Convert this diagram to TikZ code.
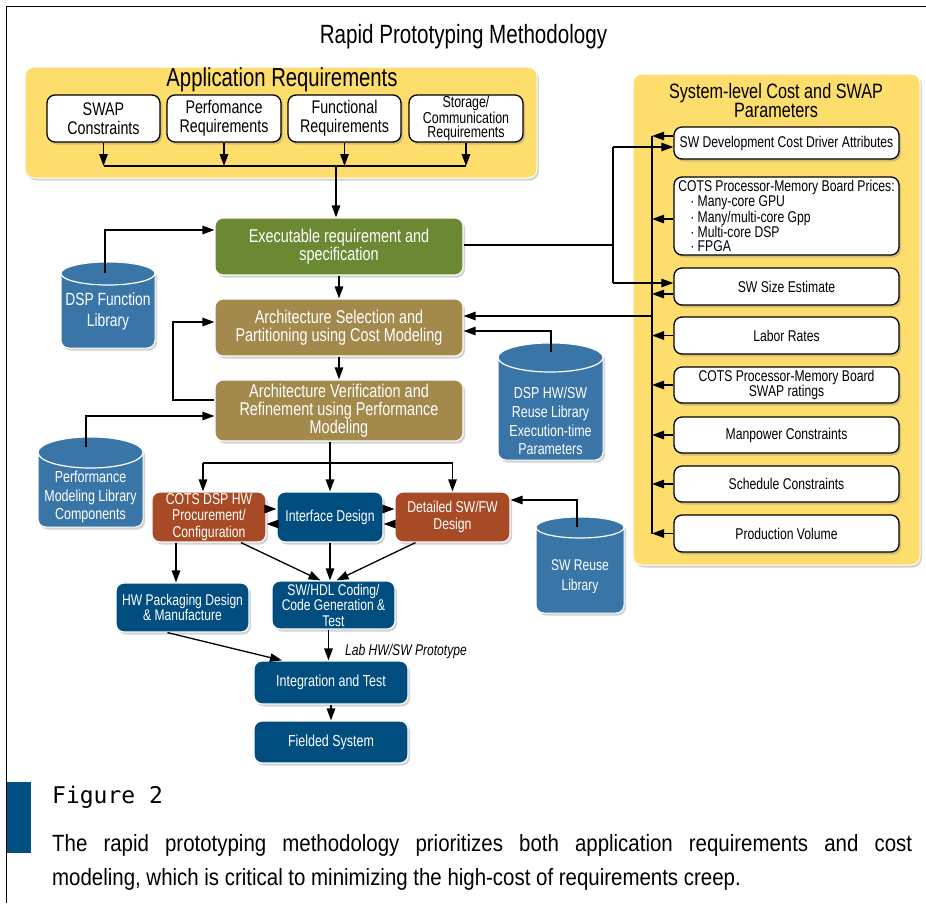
\documentclass[tikz,border=0pt]{standalone}
\usepackage{fontspec}
\setmainfont{Liberation Sans}[FakeStretch=0.78]
\newfontfamily\capfont{Liberation Sans}[FakeStretch=0.87]
\newfontfamily\figmono{DejaVu Sans Mono}
\usetikzlibrary{arrows.meta,shadows,calc}
\definecolor{panelyellow}{RGB}{253,221,108}
\definecolor{boxgreen}{RGB}{106,137,50}
\definecolor{boxolive}{RGB}{163,138,76}
\definecolor{boxrust}{RGB}{167,74,37}
\definecolor{boxblue}{RGB}{0,78,128}
\definecolor{cylblue}{RGB}{58,117,168}
\definecolor{barblue}{RGB}{0,80,130}
\newcommand\fsz[2]{\fontsize{#1}{#2}\selectfont}
\newcommand\dbcyl[5]{%
  \pgfmathsetmacro\cylrx{(#2-#1)/2}%
  \path[cylshape] (#1,#3) arc[start angle=180,end angle=0,x radius=\cylrx pt,y radius=#4pt]
     -- (#2,{#5-8}) arc[start angle=0,end angle=-90,radius=8pt]
     -- ({#1+8},#5) arc[start angle=270,end angle=180,radius=8pt] -- cycle;
  \draw[white,line width=1.2pt] (#1,#3) arc[start angle=180,end angle=360,x radius=\cylrx pt,y radius=#4pt];
}
\begin{document}
\begin{tikzpicture}[x=1pt,y=-1pt,
  shadowed/.style={drop shadow={shadow xshift=2pt,shadow yshift=-2.5pt,opacity=0.35}},
  panel/.style={shadowed,fill=panelyellow,draw=white,line width=1pt,rounded corners=9pt,inner sep=0pt},
  wbox/.style={shadowed,fill=white,draw=black,line width=1.3pt,rounded corners=8pt,align=center,inner sep=1pt,text=black},
  rbox/.style={wbox,minimum width=225pt,font=\fsz{15.6}{14.5}},
  cbox/.style={shadowed,draw=white,line width=1.2pt,rounded corners=8pt,align=center,inner sep=1pt,text=white},
  cylshape/.style={shadowed,fill=cylblue,draw=white,line width=1pt},
  cyltext/.style={text=white,align=center,inner sep=0pt},
  conn/.style={line width=1.3pt,draw=black},
  arr/.style={conn,-{Triangle[length=12pt,width=8.5pt]}}
]
\useasboundingbox (0,0) rectangle (926,903);
% frame
\draw[line width=1pt] (6,903) -- (6,6) -- (926,6);
% title
\node[font=\fsz{26.4}{26}] (title) at (463.5,37) {Rapid Prototyping Methodology};

% application requirements
\node[panel,minimum width=512pt,minimum height=111pt] (apppanel) at (281,122.5) {};
\node[font=\fsz{26}{26}] (apptitle) at (282,80) {Application Requirements};
\node[wbox,minimum width=113pt,minimum height=47pt,font=\fsz{18.3}{19}] (swap) at (103.5,118.5) {SWAP\\Constraints};
\node[wbox,minimum width=114pt,minimum height=47pt,font=\fsz{18.3}{19}] (perf) at (224,118.5) {Perfomance\\Requirements};
\node[wbox,minimum width=113pt,minimum height=47pt,font=\fsz{18.3}{19}] (func) at (344.5,118.5) {Functional\\Requirements};
\node[wbox,minimum width=114pt,minimum height=47pt,font=\fsz{15.9}{14.3}] (stor) at (466,118.5) {Storage/\\Communication\\Requirements};

% system-level panel
\node[panel,minimum width=287pt,minimum height=491pt] (syspanel) at (776.5,319.5) {};
\node[font=\fsz{20.8}{19},align=center] (systitle) at (776,101) {System-level Cost and SWAP\\Parameters};
\node[rbox,minimum height=32pt] (swdev) at (786.5,143) {SW Development Cost Driver Attributes};
\node[rbox,minimum height=78pt,align=left,font=\fsz{15.6}{14}] (prices) at (786.5,216) {COTS Processor-Memory Board Prices:\\\hspace*{12pt}· Many-core GPU\\\hspace*{12pt}· Many/multi-core Gpp\\\hspace*{12pt}· Multi-core DSP\\\hspace*{12pt}· FPGA};
\node[rbox,minimum height=37pt] (swsize) at (786.5,286.5) {SW Size Estimate};
\node[rbox,minimum height=37pt] (labor) at (786.5,335.5) {Labor Rates};
\node[rbox,minimum height=36pt] (swapr) at (786.5,385) {COTS Processor-Memory Board\\SWAP ratings};
\node[rbox,minimum height=36pt] (manpower) at (786.5,435) {Manpower Constraints};
\node[rbox,minimum height=36pt] (schedule) at (786.5,484) {Schedule Constraints};
\node[rbox,minimum height=37pt] (prodvol) at (786.5,533.5) {Production Volume};

% central flow
\node[cbox,fill=boxgreen,minimum width=248pt,minimum height=57pt,font=\fsz{18.5}{18}] (exec) at (339,246.5) {Executable requirement and\\specification};
\node[cbox,fill=boxolive,minimum width=248pt,minimum height=57pt,font=\fsz{18.5}{18.5}] (archsel) at (339,327.5) {Architecture Selection and\\Partitioning using Cost Modeling};
\node[cbox,fill=boxolive,minimum width=248pt,minimum height=61pt,font=\fsz{18.5}{18}] (archver) at (339,410.5) {Architecture Verification and\\Refinement using Performance\\Modeling};

\node[cbox,fill=boxrust,minimum width=114pt,minimum height=50pt,font=\fsz{15.7}{16.5}] (cots) at (209,517) {COTS DSP HW\\Procurement/\\Configuration};
\node[cbox,fill=boxblue,minimum width=106pt,minimum height=50pt,font=\fsz{15.7}{16.5}] (iface) at (330,517) {Interface Design};
\node[cbox,fill=boxrust,minimum width=115pt,minimum height=50pt,font=\fsz{15.7}{17}] (detailed) at (452.5,517) {Detailed SW/FW\\Design};
\node[cbox,fill=boxblue,minimum width=133pt,minimum height=49pt,font=\fsz{15.5}{15}] (hwpack) at (182.5,607.5) {HW Packaging Design\\\& Manufacture};
\node[cbox,fill=boxblue,minimum width=123pt,minimum height=48pt,font=\fsz{15.5}{15.5}] (swhdl) at (333.5,605) {SW/HDL Coding/\\Code Generation \&\\Test};
\node[cbox,fill=boxblue,minimum width=154pt,minimum height=43pt,font=\fsz{16}{16}] (integ) at (331,682.5) {Integration and Test};
\node[cbox,fill=boxblue,minimum width=154pt,minimum height=42pt,font=\fsz{16}{16}] (field) at (331,742) {Fielded System};
\node[font=\fsz{15.5}{15.5}\itshape,anchor=west,inner sep=0pt] (lab) at (345,651) {Lab HW/SW Prototype};

% cylinders
\dbcyl{61}{155}{273.5}{11.5}{348}
\dbcyl{38}{143}{452.5}{15.5}{527}
\dbcyl{498}{603}{357.5}{14.5}{460}
\dbcyl{536}{624}{527.5}{10.5}{613}
\node[cyltext,font=\fsz{17.7}{21}] (dspfl) at (108,311) {DSP Function\\Library};
\node[cyltext,font=\fsz{16}{18.5}] (perflib) at (90.5,497) {Performance\\Modeling Library\\Components};
\node[cyltext,font=\fsz{15.9}{18.7}] (hwswlib) at (550.5,421) {DSP HW/SW\\Reuse Library\\Execution-time\\Parameters};
\node[cyltext,font=\fsz{15.5}{20}] (swreuse) at (580,577) {SW Reuse\\Library};
\coordinate (dspfltop) at (105,273);
\coordinate (perftop) at (86,447);
\coordinate (hwswtop) at (551,352);
\coordinate (swreusetop) at (577,527);

% application requirement connectors
\coordinate (rbus) at (0,166);
\draw[conn] (swap.south |- rbus) -- (stor.south |- rbus);
\foreach \b in {swap,perf,func,stor} \draw[arr] (\b.south) -- (\b.south |- rbus);
\coordinate (dropx) at ([xshift=-3pt]exec.north);
\draw[arr] (dropx |- rbus) -- (dropx);

% central vertical
\draw[arr] (exec.south) -- (archsel.north);
\draw[arr] (archsel.south) -- (archver.north);

% left inputs
\coordinate (exin) at ([yshift=16.5pt]exec.west);
\draw[arr] (dspfltop) |- (exin);
\coordinate (verout) at ([yshift=10.5pt]archver.west);
\coordinate (selin) at ([yshift=5.5pt]archsel.west);
\coordinate (loopx) at (173,0);
\draw[arr] (verout) -- (verout -| loopx) |- (selin);
\coordinate (verin) at ([yshift=-5.5pt]archver.west);
\draw[arr] (perftop) |- (verin);

% right inputs to archsel
\coordinate (bus) at (652,0);
\coordinate (selin1) at ([yshift=11.5pt]archsel.east);
\coordinate (selin2) at ([yshift=-3.5pt]archsel.east);
\draw[arr] (selin1 -| bus) -- (selin1);
\draw[arr] (hwswtop) |- (selin2);

% exec to right panel
\coordinate (jx) at (613,0);
\coordinate (exout) at ([yshift=1.5pt]exec.east);
\coordinate (swdevin) at ([yshift=-4pt]swdev.west);
\coordinate (swsizein) at ([yshift=3.5pt]swsize.west);
\draw[conn] (exout) -- (exout -| jx);
\draw[conn] (swdevin -| jx) -- (swsizein -| jx);
\draw[arr] (swdevin -| jx) -- (swdevin);
\draw[arr] (swsizein -| jx) -- (swsizein);

% bus
\coordinate (swdevout) at ([yshift=7pt]swdev.west);
\coordinate (pricesout) at ([yshift=-3pt]prices.west);
\coordinate (swsizeout) at ([yshift=-7.5pt]swsize.west);
\draw[conn] (swdevout -| bus) -- (prodvol.west -| bus);
\draw[arr] (swdevout) -- (swdevout -| bus);
\draw[arr] (pricesout) -- (pricesout -| bus);
\draw[arr] (swsizeout) -- (swsizeout -| bus);
\foreach \b in {labor,swapr,manpower,schedule,prodvol} \draw[arr] (\b.west) -- (\b.west -| bus);

% split
\coordinate (splity) at (0,463);
\coordinate (cotsin) at ([xshift=-6pt]cots.north);
\draw[conn] (archver.south -| iface.north) -- (iface.north |- splity);
\draw[conn] (cotsin |- splity) -- (detailed.north |- splity);
\draw[arr] (iface.north |- splity) -- (iface.north);
\draw[arr] (cotsin |- splity) -- (cotsin);
\draw[arr] (detailed.north |- splity) -- (detailed.north);

% horizontal exchanges
\coordinate (c1) at ([yshift=8pt]cots.east);
\coordinate (c2) at ([yshift=-7pt]iface.west);
\coordinate (c3) at ([yshift=8pt]iface.east);
\coordinate (c4) at ([yshift=-7pt]detailed.west);
\draw[arr] (c1) -- (c1 -| iface.west);
\draw[arr] (c2) -- (c2 -| cots.east);
\draw[arr] (c3) -- (c3 -| detailed.west);
\draw[arr] (c4) -- (c4 -| iface.east);
\coordinate (detin) at ([yshift=17pt]detailed.east);
\draw[arr] (swreusetop) |- (detin);

% to coding and packaging
\draw[arr] ([xshift=32pt]cots.south) -- ([xshift=-13pt]swhdl.north);
\draw[arr] (iface.south) -- (iface.south |- swhdl.north);
\draw[arr] ([xshift=-37pt]detailed.south) -- ([xshift=3pt]swhdl.north);
\coordinate (hwin) at ([xshift=-33pt]cots.south);
\draw[arr] (hwin) -- (hwin |- hwpack.north);
\draw[arr] ([xshift=-15pt]hwpack.south) -- ([xshift=-49pt]integ.north);
\coordinate (swout) at ([xshift=-5pt]swhdl.south);
\draw[arr] (swout) -- (swout |- integ.north);
\draw[arr] (integ.south) -- (field.north);

% caption
\fill[barblue] (7,782) rectangle (31,853);
\node[font=\figmono\fsz{23}{23},anchor=west,inner sep=0pt] (figlbl) at (52,797) {Figure 2};
\node[font=\capfont\fsz{23.5}{23.5},anchor=base west,inner sep=0pt] (cap1) at (52,851) {\makebox[860pt][s]{The rapid prototyping methodology prioritizes both application requirements and cost}};
\node[font=\capfont\fsz{23.5}{23.5},anchor=base west,inner sep=0pt] (cap2) at (52,885) {modeling, which is critical to minimizing the high-cost of requirements creep.};
\end{tikzpicture}
\end{document}
